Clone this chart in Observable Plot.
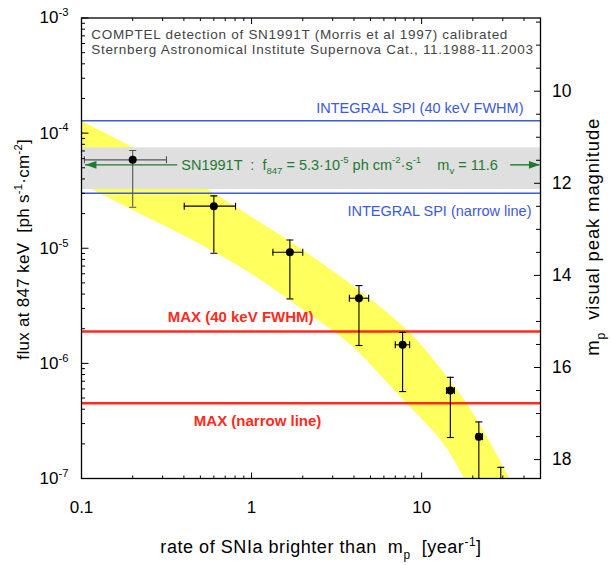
<!DOCTYPE html>
<html><head><meta charset="utf-8">
<script src="https://cdn.jsdelivr.net/npm/d3@7"></script>
<script src="https://cdn.jsdelivr.net/npm/@observablehq/plot@0.6"></script>
<style>
body{margin:0;background:#fff;}
#chart svg{font-family:"Liberation Sans",Arial,Helvetica,sans-serif;}
#chart svg text{white-space:pre;}
</style></head><body><div id="chart"></div>
<script>
// ---- scales / ticks ----
const xDomain = [0.1, 50];
const yDomain = [1e-7, 1e-3];
const xMajor = [0.1, 1, 10];
const xMinor = [0.2,0.3,0.4,0.5,0.6,0.7,0.8,0.9,2,3,4,5,6,7,8,9,20,30,40];
const yMajor = [1e-7, 1e-6, 1e-5, 1e-4, 1e-3];
const yMinor = [1e-7,1e-6,1e-5,1e-4].flatMap(d => [2,3,4,5,6,7,8,9].map(k => k*d));
const magMajor = [10, 12, 14, 16, 18];
const magMinor = [8.5,9,9.5,10.5,11,11.5,12.5,13,13.5,14.5,15,15.5,16.5,17,17.5];
const magRef = 11.6, fluxRef = 5.3e-5;
const magToFlux = m => fluxRef * Math.pow(10, -0.4 * (m - magRef));

// ---- data points (rate, flux) with error bars ----
const rate   = [0.2, 0.6, 1.68, 4.28, 7.73, 14.75, 21.7, 29.2];
const rateLo = [0.104, 0.402, 1.335, 3.76, 7.0, 14.0, 21.0, 29.2];
const rateHi = [0.316, 0.805, 2.0, 4.88, 8.5, 15.6, 22.8, 29.2];
const flux   = [5.86e-5, 2.32e-5, 9.23e-6, 3.68e-6, 1.45e-6, 5.8e-7, 2.31e-7, 8e-8];
const fluxLo = [2.27e-5, 9.05e-6, 3.63e-6, 1.43e-6, 5.69e-7, 2.27e-7, 6e-8, 5e-8];
const fluxHi = [7.06e-5, 2.85e-5, 1.18e-5, 4.74e-6, 1.86e-6, 7.57e-7, 3.1e-7, 1.25e-7];

// ---- yellow model band ----
const bandRate = [0.1, 0.2, 0.5, 1, 2, 4, 7, 10, 14, 18, 24, 33, 40, 50];
const bandHi = [1.26e-4, 7.5e-5, 3.55e-5, 1.86e-5, 9.6e-6, 4.64e-6, 2.4e-6, 1.44e-6, 7.76e-7, 4.74e-7, 2.36e-7, 1.0e-7, 6e-8, 3e-8];
const bandLo = [3.6e-5, 2.14e-5, 1.08e-5, 5.97e-6, 2.93e-6, 1.37e-6, 5.74e-7, 3.3e-7, 1.85e-7, 9.8e-8, 4.4e-8, 1.9e-8, 1e-8, 5e-9];

// ---- reference levels ----
const grayBand = [3.24e-5, 7.45e-5];
const spiFlux = [1.28e-4, 3.0e-5];
const spiLabels = ["INTEGRAL SPI (40 keV FWHM)", "INTEGRAL SPI (narrow line)"];
const maxFlux = [1.89e-6, 4.5e-7];
const maxLabels = ["MAX (40 keV FWHM)", "MAX (narrow line)"];
const maxLabelRate = [0.862, 1.085];
const snLineRate = [[0.1055, 0.368], [33.4, 49.6]];
const snTextRate = 0.386;
const snText = "SN1991T  :  f_{847} = 5.3·10^{-5} ph cm^{-2}·s^{-1}    m_{v} = 11.6";
const note = "COMPTEL detection of SN1991T (Morris et al 1997) calibrated\nSternberg Astronomical Institute Supernova Cat., 11.1988-11.2003";
const xTitle = "rate of SNIa brighter than  m_{p}  [year^{-1}]";
const yTitle = "flux at 847 keV  [ph s^{-1}·cm^{-2}]";
const y2Title = "m_{p}  visual peak magnitude";

const points = rate.map((r, i) => ({r, lo: rateLo[i], hi: rateHi[i], f: flux[i], flo: fluxLo[i], fhi: fluxHi[i], i}));
const band = bandRate.map((r, i) => ({r, lo: bandLo[i], hi: bandHi[i]}));

const YELLOW = "#ffff5e", GRAY = "#dfdfdf", BLUE = "#3d5ad8", RED = "#ff2b1c", GREEN = "#1e7a32";
const barColor = (d) => d.i === 0 ? "#555" : "#000";

const capH = {draw(ctx, size) { const r = Math.sqrt(size / Math.PI); ctx.moveTo(-r, 0); ctx.lineTo(r, 0); }};
const capV = {draw(ctx, size) { const r = Math.sqrt(size / Math.PI); ctx.moveTo(0, -r); ctx.lineTo(0, r); }};
const headL = {draw(ctx) { ctx.moveTo(0, 0); ctx.lineTo(11, -3.8); ctx.lineTo(11, 3.8); ctx.closePath(); }};
const headR = {draw(ctx) { ctx.moveTo(0, 0); ctx.lineTo(-11, -3.8); ctx.lineTo(-11, 3.8); ctx.closePath(); }};
// inward tick marks
const tk = (dx, dy) => ({draw(ctx) { ctx.moveTo(0, 0); ctx.lineTo(dx, dy); }});
const tickIn = (data, opts, sym) => Plot.dot(data, {...opts, symbol: sym, stroke: "black", fill: "none", strokeWidth: 1});

const chart = Plot.plot({
  width: 612, height: 565,
  marginLeft: 81, marginRight: 72, marginTop: 17.5, marginBottom: 87,
  style: {background: "white", overflow: "visible", fontFamily: "Liberation Sans, Arial, sans-serif"},
  x: {type: "log", domain: xDomain},
  y: {type: "log", domain: yDomain},
  marks: [
    Plot.areaY(band, {x: "r", y1: "lo", y2: "hi", fill: YELLOW, curve: "monotone-x", clip: true}),
    Plot.rect([grayBand], {x1: xDomain[0], x2: xDomain[1], y1: d => d[0], y2: d => d[1], fill: GRAY}),
    Plot.ruleY(spiFlux, {stroke: BLUE, strokeWidth: 1.4}),
    Plot.ruleY(maxFlux, {stroke: RED, strokeWidth: 2.6}),
    // green SN1991T marker
    Plot.ruleY(snLineRate, {y: fluxRef, x1: d => d[0], x2: d => d[1], stroke: GREEN, strokeWidth: 1.4}),
    Plot.dot([snLineRate[0][0]], {x: d => d, y: fluxRef, symbol: headL, fill: GREEN, stroke: "none"}),
    Plot.dot([snLineRate[1][1]], {x: d => d, y: fluxRef, symbol: headR, fill: GREEN, stroke: "none"}),
    Plot.text([snText], {x: snTextRate, y: fluxRef, text: d => d, textAnchor: "start", fill: GREEN, fontSize: 14.5}),
    // error bars
    Plot.ruleX(points, {x: "r", y1: "flo", y2: "fhi", stroke: barColor, strokeWidth: 1.1, clip: true}),
    Plot.ruleY(points, {y: "f", x1: "lo", x2: "hi", stroke: barColor, strokeWidth: 1.1, clip: true}),
    Plot.dot(points, {x: "r", y: "flo", symbol: capH, r: 3.5, stroke: barColor, fill: "none", strokeWidth: 1.1, clip: true}),
    Plot.dot(points, {x: "r", y: "fhi", symbol: capH, r: 3.5, stroke: barColor, fill: "none", strokeWidth: 1.1, clip: true}),
    Plot.dot(points.filter(d => d.lo < d.hi), {x: "lo", y: "f", symbol: capV, r: 3.5, stroke: barColor, fill: "none", strokeWidth: 1.1, clip: true}),
    Plot.dot(points.filter(d => d.lo < d.hi), {x: "hi", y: "f", symbol: capV, r: 3.5, stroke: barColor, fill: "none", strokeWidth: 1.1, clip: true}),
    Plot.dot(points, {x: "r", y: "f", r: 4, fill: "black", clip: true}),
    // level labels
    Plot.text([spiLabels[0]], {x: xDomain[1], y: spiFlux[0], text: d => d, textAnchor: "end", dx: -17, dy: -12, fill: BLUE, fontSize: 14.5}),
    Plot.text([spiLabels[1]], {x: xDomain[1], y: spiFlux[1], text: d => d, textAnchor: "end", dx: -9, dy: 18, fill: BLUE, fontSize: 14.5}),
    Plot.text([maxLabels[0]], {x: maxLabelRate[0], y: maxFlux[0], text: d => d, textAnchor: "middle", dy: -14, fill: RED, fontSize: 15, fontWeight: "bold"}),
    Plot.text([maxLabels[1]], {x: maxLabelRate[1], y: maxFlux[1], text: d => d, textAnchor: "middle", dy: 18, fill: RED, fontSize: 15, fontWeight: "bold"}),
    Plot.text([note], {frameAnchor: "top-left", dx: 9.7, dy: 11.5, text: d => d, fill: "#444", fontSize: 13.5, lineHeight: 1.04}),
    // axis tick labels
    Plot.axisY(yMajor, {anchor: "left", tickSize: 0, tickPadding: 13, fontSize: 17, tickFormat: d => `10^{${Math.round(Math.log10(d))}}`, label: null}),
    Plot.text(magMajor, {x: xDomain[1], y: magToFlux, text: d => String(d), textAnchor: "start", dx: 11.5, fontSize: 17.5, fill: "black"}),
    Plot.axisX(xMajor, {anchor: "bottom", tickSize: 0, tickPadding: 22, fontSize: 17, tickFormat: d => String(d), label: null}),
    // inward ticks
    tickIn(yMajor, {x: xDomain[0], y: d => d}, tk(7, 0)),
    tickIn(yMinor, {x: xDomain[0], y: d => d}, tk(3.5, 0)),
    tickIn(magMajor, {x: xDomain[1], y: magToFlux}, tk(-6.5, 0)),
    tickIn(magMinor, {x: xDomain[1], y: magToFlux}, tk(-4.5, 0)),
    tickIn(xMajor, {x: d => d, y: yDomain[0]}, tk(0, -6)),
    tickIn(xMinor, {x: d => d, y: yDomain[0]}, tk(0, -3)),
    tickIn(xMajor, {x: d => d, y: yDomain[1]}, tk(0, 6)),
    tickIn(xMinor, {x: d => d, y: yDomain[1]}, tk(0, 3)),
    // axis titles
    Plot.text([xTitle], {frameAnchor: "bottom", dx: 10, dy: 69, lineAnchor: "middle", textAnchor: "middle", text: d => d, fontSize: 18, fill: "black"}),
    Plot.text([yTitle], {frameAnchor: "left", dx: -58, dy: 1, rotate: -90, lineAnchor: "middle", textAnchor: "middle", text: d => d, fontSize: 17, fill: "black"}),
    Plot.text([y2Title], {frameAnchor: "right", dx: 53, dy: -11.5, rotate: -90, lineAnchor: "middle", textAnchor: "middle", text: d => d, fontSize: 18.5, fill: "black"}),
    Plot.frame({stroke: "black", strokeWidth: 1.3})
  ]
});
document.getElementById("chart").appendChild(chart);

// turn _{..} / ^{..} markup into sub/superscript tspans
function richify(root) {
  root.querySelectorAll("text").forEach(el => {
    const spans = el.querySelectorAll("tspan");
    const targets = spans.length ? Array.from(spans) : [el];
    targets.forEach(t => {
      const s = t.textContent;
      if (!/[_^]\{/.test(s)) return;
      const F = parseFloat(getComputedStyle(t).fontSize) || 12;
      while (t.firstChild) t.removeChild(t.firstChild);
      const re = /([_^])\{([^}]*)\}/g;
      let last = 0, shift = 0, m;
      const add = (str, kind) => {
        if (!str) return;
        const ts = document.createElementNS("http://www.w3.org/2000/svg", "tspan");
        const target = kind === "^" ? -0.42 * F : kind === "_" ? 0.32 * F : 0;
        const dy = target - shift;
        if (dy) ts.setAttribute("dy", dy.toFixed(2));
        shift = target;
        if (kind) ts.setAttribute("font-size", (0.66 * F).toFixed(2));
        ts.textContent = str;
        t.appendChild(ts);
      };
      while ((m = re.exec(s))) { add(s.slice(last, m.index), null); add(m[2], m[1]); last = re.lastIndex; }
      add(s.slice(last), null);
    });
  });
}
// letter spacing for the wide-set texts of the reference
const spacing = [["COMPTEL", "0.72px"], ["rate of", "0.55px"], ["flux at", "0.3px"], ["m_{p}  visual", "0.85px"]];
chart.querySelectorAll("text").forEach(el => {
  const s = el.textContent;
  for (const [p, ls] of spacing) if (s.startsWith(p)) el.style.letterSpacing = ls;
});
richify(chart);
</script></body></html>
